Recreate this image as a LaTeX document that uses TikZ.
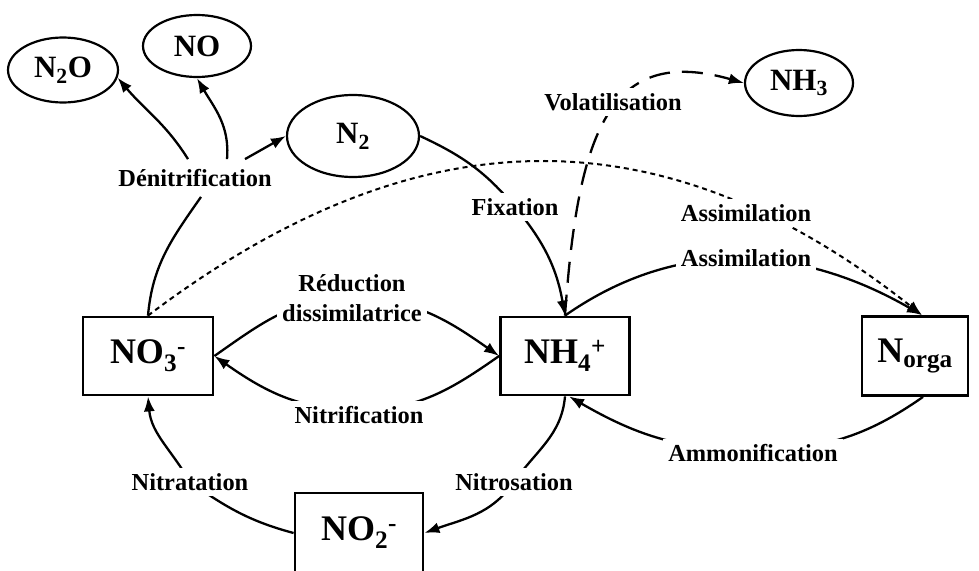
\documentclass[tikz,border=0pt]{standalone}
\usepackage{fontspec}
\setmainfont{Liberation Serif}
\usetikzlibrary{shapes.geometric,arrows.meta}
\begin{document}
\begin{tikzpicture}[x=1pt, y=1pt,
        espece/.style={draw, line width=2.8pt, inner sep=0pt, minimum width=130pt, minimum height=78pt, font=\fontsize{36}{40}\selectfont\bfseries},
        gaz/.style={draw, ellipse, line width=2.2pt, inner sep=0pt, font=\fontsize{31}{34}\selectfont\bfseries},
        proc/.style={fill=white, inner sep=5pt, align=center, font=\fontsize{24.4}{30}\selectfont\bfseries},
        trait/.style={line width=2.3pt},
        fleche/.style={line width=2.3pt, -{Latex[length=15pt,width=11pt]}},
        tirets/.style={fleche, dash pattern=on 21pt off 12pt},
        pointille/.style={fleche, line width=2pt, dash pattern=on 5pt off 4pt}]
            \useasboundingbox (0,0) rectangle (979,-570);
            \node [espece] (no3) at (148,-356) {NO\textsubscript{3}\textsuperscript{-}};
            \node [espece, minimum width=129pt] (nh4) at (565,-356) {NH\textsubscript{4}\textsuperscript{+}};
            \node [espece, minimum width=106pt, minimum height=79pt] (norga) at (915,-356) {N\textsubscript{orga}};
            \node [espece, minimum width=128pt, minimum height=80pt] (no2) at (359,-533) {NO\textsubscript{2}\textsuperscript{-}};
            \node [gaz, minimum width=110pt, minimum height=65pt] (n2o) at (63,-70) {N\textsubscript{2}O};
            \node [gaz, minimum width=108pt, minimum height=62pt] (no) at (197,-46) {NO};
            \node [gaz, minimum width=132pt, minimum height=82pt] (n2) at (353,-136) {N\textsubscript{2}};
            \node [gaz, minimum width=108pt, minimum height=66pt] (nh3) at (799,-83) {NH\textsubscript{3}};
            \coordinate (reducC) at (352,-298);
            \coordinate (nitrifC) at (359,-410);
            \coordinate (nitrosC) at (514,-482);
            \coordinate (nitratC) at (190,-482);
            \coordinate (ammonC) at (753,-450);
            \coordinate (fixC) at (515,-207);
            \draw [fleche] (no3.east) to[out=35, in=180] (reducC) to[out=0, in=145] (nh4.west);
            \draw [fleche] (nh4.west) to[out=-145, in=0] (nitrifC) to[out=180, in=-35] (no3.east);
            \draw [fleche] (nh4.south) to[out=-95, in=55] (nitrosC) to[out=-125, in=20] (no2.east);
            \draw [fleche] (no2.west) to[out=165, in=-35] (nitratC) to[out=120, in=-85] (no3.south);
            \draw [fleche] ([xshift=8pt]norga.south) to[out=-145, in=0] (ammonC) to[out=180, in=-30] ([xshift=4pt]nh4.south);
            \draw [fleche] (n2.east) to[out=-25, in=130] (fixC) to[out=-50, in=100] (nh4.north);
            \draw [fleche] (nh4.north) to[out=35, in=150] ([xshift=7pt]norga.north);
            \draw [pointille] (no3.north) .. controls (420,-110) and (665,-112) .. ([xshift=7pt]norga.north);
            \draw [tirets] (nh4.north) .. controls (578,-130) and (610,-45) .. (nh3.west);
            \node [proc] (reduc) at (reducC) {Réduction\\dissimilatrice};
            \node [proc] (nitrif) at (359,-415) {Nitrification};
            \node [proc] (nitros) at (nitrosC) {Nitrosation};
            \node [proc] (nitrat) at (nitratC) {Nitratation};
            \node [proc] (ammon) at (753,-453) {Ammonification};
            \node [proc] (fix) at (fixC) {Fixation};
            \node [proc] (vola) at (613,-102) {Volatilisation};
            \node [proc] (assimB) at (746,-213) {Assimilation};
            \node [proc] (assimA) at (746,-258) {Assimilation};
            \node [proc, inner ysep=10pt] (denit) at (195,-178) {Dénitrification};
            \draw [trait] (no3.north) to[out=85, in=-125] ([xshift=6pt]denit.south);
            \draw [fleche] ([xshift=-7pt]denit.north) to[out=122, in=-50] (n2o.-8);
            \draw [fleche] ([xshift=32pt]denit.north) to[out=85, in=-60] (no.south);
            \draw [fleche] ([xshift=50pt]denit.north) -- (n2.west);
\end{tikzpicture}
\end{document}
